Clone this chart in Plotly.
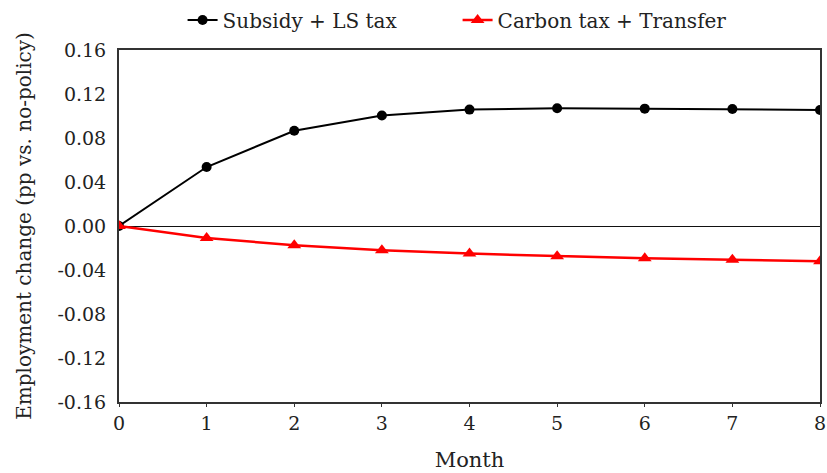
import plotly.graph_objects as go

months = [0, 1, 2, 3, 4, 5, 6, 7, 8]
subsidy_ls = [0.0, 0.0536, 0.0866, 0.1004, 0.1058, 0.1070, 0.1067, 0.1064, 0.1055]
carbon_transfer = [0.0, -0.0109, -0.0175, -0.0221, -0.0251, -0.0275, -0.0294, -0.0306, -0.0321]
y_ticks = [-0.16, -0.12, -0.08, -0.04, 0.0, 0.04, 0.08, 0.12, 0.16]
y_tick_text = ["-0.16", "-0.12", "-0.08", "-0.04", "0.00", "0.04", "0.08", "0.12", "0.16"]

FONT = "DejaVu Serif, Liberation Serif, serif"

fig = go.Figure()
fig.add_trace(go.Scatter(
    x=months, y=subsidy_ls, name="Subsidy + LS tax", mode="lines+markers",
    line=dict(color="black", width=2), marker=dict(symbol="circle", size=10, color="black"),
))
fig.add_trace(go.Scatter(
    x=months, y=carbon_transfer, name="Carbon tax + Transfer", mode="lines+markers",
    line=dict(color="#ff0000", width=2.5), marker=dict(symbol="triangle-up", size=12, color="#ff0000"),
))

fig.update_layout(
    width=827, height=473,
    margin=dict(l=119, r=7, t=50, b=71, autoexpand=False),
    paper_bgcolor="white", plot_bgcolor="white",
    font=dict(family=FONT, size=19, color="#222"),
    showlegend=True,
    legend=dict(orientation="h", x=0.483, xanchor="center", y=1.03, yanchor="bottom",
                font=dict(family=FONT, size=20, color="#222"),
                entrywidth=230, entrywidthmode="pixels",
                traceorder="normal", bgcolor="rgba(0,0,0,0)"),
    xaxis=dict(range=[0, 8], tickvals=months, ticks="outside", ticklen=3, tickcolor="#333",
               showline=True, linecolor="#333", linewidth=2, mirror=True,
               showgrid=False, zeroline=False,
               tickfont=dict(family=FONT, size=19, color="#222"),
               title=dict(text="Month", font=dict(family=FONT, size=21, color="#222"), standoff=20)),
    yaxis=dict(range=[-0.16, 0.16], tickvals=y_ticks, ticktext=y_tick_text, ticks="",
               ticklabelstandoff=7,
               showline=True, linecolor="#333", linewidth=2, mirror=True,
               showgrid=False, zeroline=True, zerolinecolor="#111", zerolinewidth=1.3,
               tickfont=dict(family=FONT, size=19, color="#222"),
               title=dict(text="Employment change (pp vs. no-policy)",
                          font=dict(family=FONT, size=20, color="#222"), standoff=20)),
)

fig.write_html("out.html")
